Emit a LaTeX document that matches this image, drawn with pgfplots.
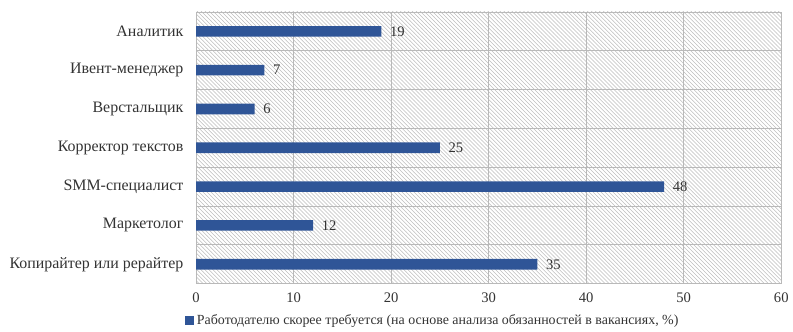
\documentclass[border=0pt]{standalone}
\usepackage{fontspec}
\setmainfont{Liberation Serif}
\usepackage{pgfplots}
\pgfplotsset{compat=1.18}
\usetikzlibrary{patterns}
\definecolor{barblue}{RGB}{47,85,151}
\definecolor{gridgray}{RGB}{185,185,185}
\definecolor{hatch}{RGB}{190,190,190}
\begin{document}
\begin{tikzpicture}
\begin{axis}[
  at={(0,0)}, anchor=south west,
  scale only axis,
  width=441pt, height=204.75pt,
  xbar, bar width=8pt,
  xmin=0, xmax=60,
  ymin=-0.5, ymax=6.5,
  xtick={0,10,...,60},
  ytick={0,...,6},
  yticklabels={Копирайтер или рерайтер,Маркетолог,SMM-специалист,Корректор текстов,Верстальщик,Ивент-менеджер,Аналитик},
  minor ytick={-0.5,0.5,...,6.5},
  xmajorgrids=true, yminorgrids=true,
  grid style={gridgray, line width=0.6pt},
  minor grid style={gridgray, line width=0.6pt},
  axis line style={gridgray},
  major tick length=0pt, minor tick length=0pt,
  tick style={draw=none},
  /pgf/number format/assume math mode=true,
  xticklabel style={font=\fontsize{11}{12}\selectfont, text=black!80, yshift=-3pt},
  yticklabel style={font=\fontsize{12}{14}\selectfont, text=black!80, xshift=-6pt},
  axis background/.style={pattern=north west lines, pattern color=hatch},
  nodes near coords,
  nodes near coords style={font=\fontsize{11}{12}\selectfont, text=black!80, xshift=3pt},
  legend style={at={(0.405,-0.1355)}, anchor=center, draw=none, fill=none,
    font=\fontsize{10.5}{12}\selectfont, text=black!80, inner sep=0pt,
    /tikz/every even column/.append style={column sep=0pt}},
  legend image code/.code={\fill[barblue] (0pt,-3.5pt) rectangle (7pt,3.5pt);},
  clip=false,
]
\addplot[fill=barblue, draw=none] coordinates {(35,0) (12,1) (48,2) (25,3) (6,4) (7,5) (19,6)};
\addlegendentry{Работодателю скорее требуется (на основе анализа обязанностей в вакансиях, \%)}
\end{axis}
\useasboundingbox (-147.75pt,-36pt) rectangle (447pt,213.75pt);
\end{tikzpicture}
\end{document}
